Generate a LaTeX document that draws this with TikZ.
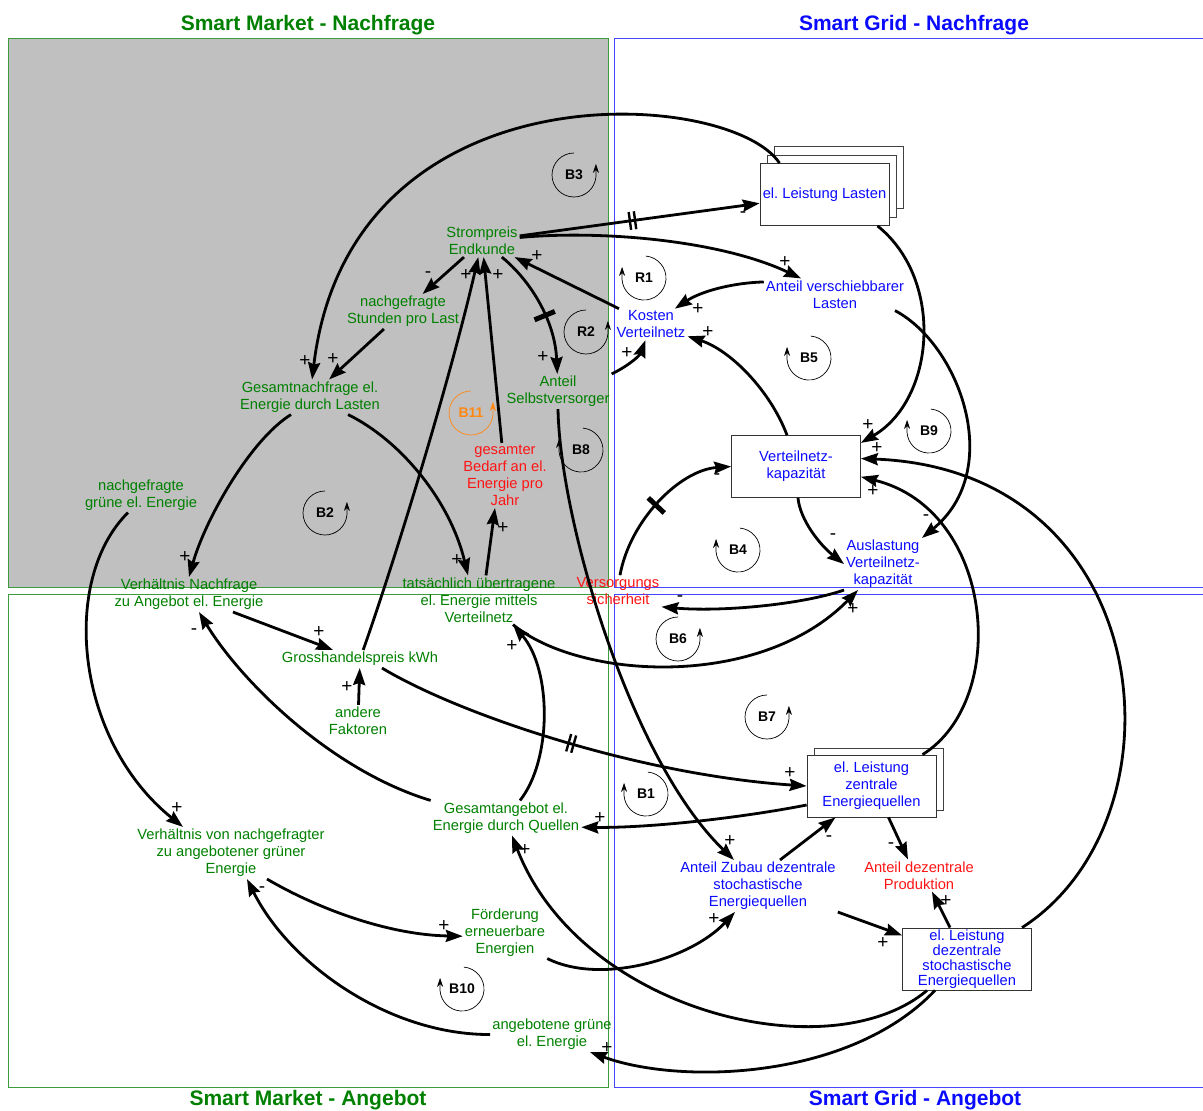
\documentclass[tikz,border=0pt]{standalone}
\usepackage{fontspec}
\setmainfont{Liberation Sans}
\usetikzlibrary{arrows.meta,decorations.markings,shadows}
\frenchspacing

\definecolor{mgreen}{RGB}{0,128,0}
\definecolor{mframe}{RGB}{60,155,60}
\definecolor{gblue}{RGB}{10,10,255}
\definecolor{gframe}{RGB}{70,70,255}
\definecolor{gred}{RGB}{255,20,20}
\definecolor{lorange}{RGB}{255,135,20}
\definecolor{panelgrey}{RGB}{192,192,192}

\tikzset{
  var/.style={align=center,inner sep=2pt,font=\fontsize{14.7}{17}\selectfont},
  mvar/.style={var,text=mgreen},
  gvar/.style={var,text=gblue},
  rvar/.style={var,text=gred},
  level/.style={gvar,draw=black!80,fill=white,line width=0.8pt,
    minimum width=129pt,minimum height=62pt,inner sep=1pt},
  causal/.style={-{Stealth[length=17pt,width=12pt,inset=2pt]},line width=2.8pt},
  sign/.style={inner sep=0pt,font=\fontsize{19}{19}\selectfont},
  looplabel/.style={inner sep=0pt,font=\bfseries\fontsize{14}{14}\selectfont},
  loopline/.style={-{Stealth[length=9pt,width=6pt]},line width=0.7pt},
  paneltitle/.style={inner sep=0pt,font=\bfseries\fontsize{21}{21}\selectfont},
  delaymark/.style={postaction={decorate,decoration={markings,
    mark=at position #1 with {\draw[-,line width=2.4pt] (-2.6pt,-9pt) -- (-2.6pt,9pt) (2.6pt,-9pt) -- (2.6pt,9pt);}}}},
  delaybar/.style={postaction={decorate,decoration={markings,
    mark=at position #1 with {\draw[-,line width=5pt] (0pt,-11pt) -- (0pt,11pt);}}}}
}

\begin{document}
\begin{tikzpicture}[x=1pt,y=-1pt]
\useasboundingbox (0,0) rectangle (1203,1111);
\clip (0,0) rectangle (1203,1111);

% panels
\draw[mframe,fill=panelgrey,line width=1pt] (8,38) rectangle (608,587);
\draw[mframe,line width=1pt] (8,594) rectangle (608,1087);
\draw[gframe,line width=1pt] (614,38) rectangle (1215,587);
\draw[gframe,line width=1pt] (614,594) rectangle (1215,1087);
\node[paneltitle,text=mgreen] (tMN) at (308,25) {Smart Market - Nachfrage};
\node[paneltitle,text=gblue] (tGN) at (914,25) {Smart Grid - Nachfrage};
\node[paneltitle,text=mgreen] (tMA) at (308,1100) {Smart Market - Angebot};
\node[paneltitle,text=gblue] (tGA) at (915,1100) {Smart Grid - Angebot};

% variables
\node[mvar] (strom) at (482,241) {Strompreis\\Endkunde};
\node[level,copy shadow={shadow xshift=14pt,shadow yshift=17pt,draw=black!75,fill=white},
  copy shadow={shadow xshift=7pt,shadow yshift=8.5pt,draw=black!75,fill=white}]
  (lasten) at (824.5,194.5) {el. Leistung Lasten};
\node[gvar] (verschieb) at (835,294.5) {Anteil verschiebbarer\\Lasten};
\node[gvar] (kosten) at (651,324.5) {Kosten\\Verteilnetz};
\node[mvar] (stunden) at (403,311.5) {nachgefragte\\Stunden pro Last};
\node[mvar] (gesnach) at (310,397) {Gesamtnachfrage el.\\Energie durch Lasten};
\node[mvar] (selbst) at (558,391.5) {Anteil\\Selbstversorger};
\node[rvar] (bedarf) at (505,475.5) {gesamter\\Bedarf an el.\\Energie pro\\Jahr};
\node[level] (kap) at (796,466.5) {Verteilnetz-\\kapazität};
\node[mvar] (gruenN) at (141,495) {nachgefragte\\grüne el. Energie};
\node[gvar] (ausl) at (883,564) {Auslastung\\Verteilnetz-\\kapazität};
\node[mvar] (verhNA) at (189,594.5) {Verhältnis Nachfrage\\zu Angebot el. Energie};
\node[mvar] (uebertr) at (479,600) {tatsächlich übertragene\\el. Energie mittels\\Verteilnetz};
\node[rvar] (versorg) at (618,591) {Versorgungs\\sicherheit};
\node[mvar] (gross) at (360,659) {Grosshandelspreis kWh};
\node[mvar] (andere) at (358,721) {andere\\Faktoren};
\node[level,copy shadow={shadow xshift=7pt,shadow yshift=7pt,draw=black!75,fill=white}]
  (zentral) at (871.5,786) {el. Leistung\\zentrale\\Energiequellen};
\node[mvar] (gesang) at (506,818) {Gesamtangebot el.\\Energie durch Quellen};
\node[mvar] (verhGr) at (231,853) {Verhältnis von nachgefragter\\zu angebotener grüner\\Energie};
\node[gvar] (zubau) at (758,886) {Anteil Zubau dezentrale\\stochastische\\Energiequellen};
\node[rvar] (dezprod) at (919,875.5) {Anteil dezentrale\\Produktion};
\node[mvar] (foerd) at (505,932.5) {Förderung\\erneuerbare\\Energien};
\node[level,font=\fontsize{14.7}{14.8}\selectfont] (dezentral) at (967,959)
  {el. Leistung\\dezentrale\\stochastische\\Energiequellen};
\node[mvar] (angebGr) at (552,1034.5) {angebotene grüne\\el. Energie};

% loop markers
\foreach \lx/\ly/\lname in {574/175/B3,586/332/R2,325/513/B2,678/639/B6,767/717/B7}{
  \node[looplabel] (loop\lname) at (\lx,\ly) {\lname};
  \draw[loopline] (\lx,\ly) ++(-90:22) arc[start angle=-90,end angle=-355,radius=22] -- ++(0,-13);
}
\foreach \lx/\ly/\lname in {644/278/R1,809/358/B5,929/431/B9,581/450/B8,738/550/B4,646/794/B1,462/989/B10}{
  \node[looplabel] (loop\lname) at (\lx,\ly) {\lname};
  \draw[loopline] (\lx,\ly) ++(-85:22) arc[start angle=-85,end angle=175,radius=22] -- ++(0,-13);
}
\node[looplabel,text=lorange] (loopB11) at (471,413) {B11};
\draw[loopline,lorange] (471,413) ++(-90:22) arc[start angle=-90,end angle=-355,radius=22] -- ++(0,-13);

% causal links
\draw[causal,delaymark=0.47] (strom) -- (lasten);
\draw[causal] (strom) .. controls (600,230) and (720,240) .. (verschieb);
\draw[causal] (strom) -- (stunden);
\draw[causal] (stunden) -- (gesnach);
\draw[causal] ([xshift=-45pt]lasten.north) .. controls (730,88) and (350,62) .. (gesnach);
\draw[causal] (kosten) -- (strom);
\draw[causal,delaybar=0.55] (strom) .. controls (530,280) and (555,320) .. (selbst);
\draw[causal] (gross) .. controls (395,560) and (450,380) .. (strom);
\draw[causal] (bedarf) -- (strom);
\draw[causal] (verschieb.170) .. controls (730,283) and (700,292) .. (kosten);
\draw[causal] (selbst.north east) .. controls (630,365) and (640,355) .. (kosten);
\draw[causal] ([xshift=-9pt]kap.north) .. controls (770,390) and (730,350) .. (kosten);
\draw[causal] ([xshift=53pt]lasten.south) .. controls (945,280) and (935,400) .. (kap.20);
\draw[causal] ([xshift=60pt]verschieb.south) .. controls (960,345) and (1005,470) .. (ausl.north east);
\draw[causal] ([xshift=2pt]kap.south) .. controls (800,520) and (820,545) .. (ausl.west);
\draw[causal,delaybar=0.48] ([xshift=2pt]versorg.north) .. controls (630,520) and (680,470) .. (kap.west);
\draw[causal] (ausl.south west) .. controls (800,605) and (720,612) .. (versorg.south east);
\draw[causal] ([xshift=34pt]uebertr.south) .. controls (580,680) and (760,690) .. ([xshift=-25pt]ausl.south);
\draw[causal] ([xshift=-19pt]gesnach.south) .. controls (250,440) and (205,520) .. (verhNA.north);
\draw[causal] ([xshift=38pt]gesnach.south) .. controls (400,440) and (450,500) .. ([xshift=-11pt]uebertr.north);
\draw[causal] ([xshift=7pt]uebertr.north) -- ([xshift=-10pt]bedarf.south);
\draw[causal] ([xshift=44pt]verhNA.south) -- ([xshift=-27pt]gross.north);
\draw[causal] (andere) -- (gross);
\draw[causal,delaymark=0.46] ([xshift=22pt]gross.south) .. controls (460,715) and (640,775) .. (zentral.west);
\draw[causal] (gesang.north west) .. controls (330,770) and (240,680) .. ([xshift=10pt]verhNA.south);
\draw[causal] ([xshift=14pt]gesang.north) .. controls (552,760) and (552,670) .. ([xshift=34pt]uebertr.south);
\draw[causal] ([yshift=-19pt]zentral.west) .. controls (740,818) and (650,828) .. (gesang.-7);
\draw[causal] ([xshift=51pt]zentral.north) .. controls (1010,700) and (995,510) .. (kap.-9);
\draw[causal] ([xshift=17pt]zentral.south) -- ([xshift=-11pt]dezprod.north);
\draw[causal] ([xshift=22pt]zubau.north) -- ([xshift=-36pt]zentral.south);
\draw[causal] (selbst.south) .. controls (560,520) and (630,760) .. ([xshift=-24pt]zubau.north);
\draw[causal] (zubau.south east) -- (dezentral.160);
\draw[causal] ([xshift=-17pt]dezentral.north) -- ([xshift=13pt]dezprod.south);
\draw[causal] ([xshift=55pt]dezentral.north) .. controls (1190,820) and (1160,470) .. (kap.7);
\draw[causal] ([xshift=-40pt]dezentral.south) .. controls (830,1072) and (580,1012) .. ([xshift=6pt]gesang.south);
\draw[causal] ([xshift=-32pt]dezentral.south) .. controls (850,1080) and (680,1085) .. ([xshift=38pt]angebGr.south);
\draw[causal] (angebGr.west) .. controls (390,1035) and (290,965) .. ([xshift=16pt]verhGr.south);
\draw[causal] ([xshift=36pt]verhGr.south) .. controls (320,910) and (390,935) .. (foerd.185);
\draw[causal] (foerd.south east) .. controls (600,985) and (690,960) .. ([xshift=-23pt]zubau.south);
\draw[causal] ([xshift=-13pt]gruenN.south) .. controls (60,580) and (75,740) .. ([xshift=-48pt]verhGr.north);

% polarities
\foreach \sx/\sy/\sg in {743/215/-,785/262/+,428/275/-,333/359/+,305/361/+,537/256/+,
  543/357/+,466/275/+,498/275/+,698/309/+,627/353/+,708/332/+,868/425/+,877/448/+,
  873/491/+,926/518/-,833/537/-,717/477/-,680/599/-,853/609/+,185/557/+,457/560/+,
  503/528/+,319/632/+,347/687/+,790/773/+,194/632/-,512/646/+,600/818/+,891/846/-,
  829/839/-,730/841/+,883/943/+,946/901/+,525/850/+,607/1048/+,262/890/-,444/926/+,
  714/919/+,177/808/+}
  \node[sign] (sg-\sx-\sy) at (\sx,\sy) {\sg};
\end{tikzpicture}
\end{document}
